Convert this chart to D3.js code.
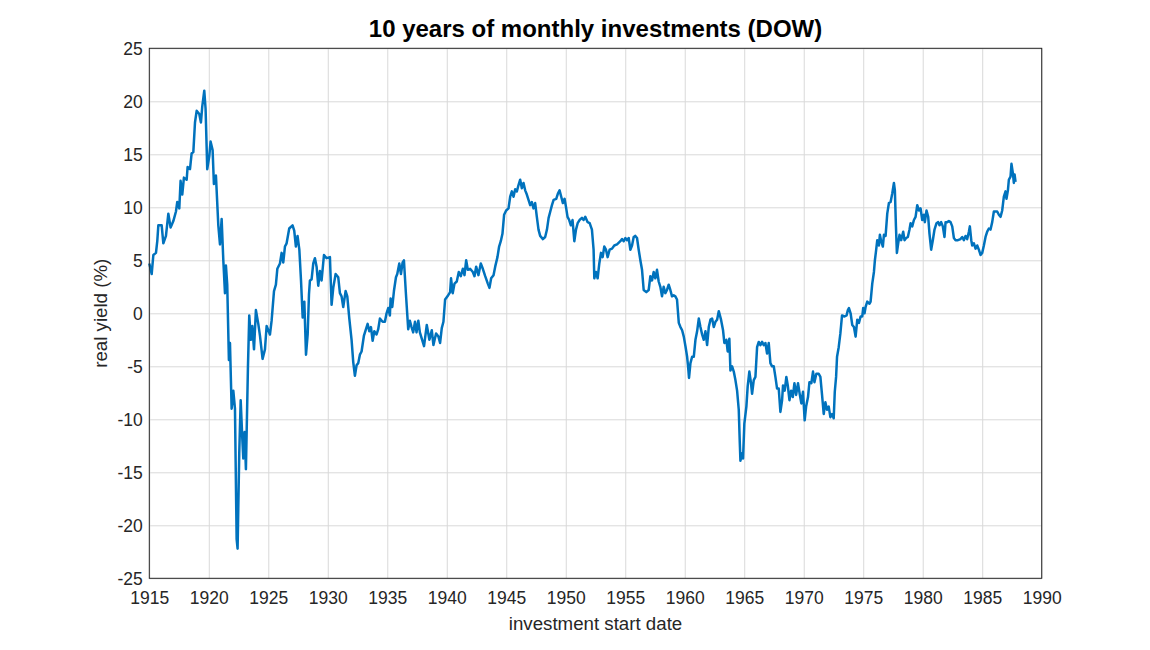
<!DOCTYPE html>
<html>
<head>
<meta charset="utf-8">
<script src="https://cdn.jsdelivr.net/npm/d3@7"></script>
<style>
    body { margin: 0; background: #fff; }
    #chart { width: 1150px; height: 650px; }
</style>
</head>
<body>
<div id="chart"></div>
<script>

const chartTitle = "10 years of monthly investments (DOW)";
const xLabel = "investment start date";
const yLabel = "real yield (%)";

const xTicks = [1915, 1920, 1925, 1930, 1935, 1940, 1945, 1950, 1955, 1960, 1965, 1970, 1975, 1980, 1985, 1990];
const yTicks = [-25, -20, -15, -10, -5, 0, 5, 10, 15, 20, 25];

// investment start date (decimal year)
const startDates = [
    1915.00, 1915.20, 1915.34, 1915.56, 1915.67, 1915.76, 1916.04, 1916.18, 1916.40, 1916.60,
    1916.79, 1917.02, 1917.24, 1917.35, 1917.52, 1917.63, 1917.77, 1917.91, 1918.14, 1918.22,
    1918.42, 1918.56, 1918.70, 1918.84, 1918.98, 1919.20, 1919.34, 1919.45, 1919.62, 1919.73,
    1919.87, 1920.04, 1920.15, 1920.32, 1920.43, 1920.60, 1920.80, 1920.94, 1921.08, 1921.22,
    1921.36, 1921.44, 1921.55, 1921.69, 1921.78, 1921.92, 1922.06, 1922.20, 1922.34, 1922.42,
    1922.56, 1922.68, 1922.82, 1922.90, 1923.01, 1923.12, 1923.29, 1923.40, 1923.54, 1923.66,
    1923.80, 1923.96, 1924.16, 1924.30, 1924.52, 1924.72, 1924.86, 1925.14, 1925.28, 1925.48,
    1925.64, 1925.76, 1925.98, 1926.12, 1926.26, 1926.40, 1926.54, 1926.76, 1927.04, 1927.18,
    1927.32, 1927.46, 1927.61, 1927.75, 1927.89, 1928.03, 1928.17, 1928.31, 1928.42, 1928.50,
    1928.64, 1928.78, 1928.92, 1929.06, 1929.20, 1929.34, 1929.48, 1929.68, 1929.90, 1930.18,
    1930.32, 1930.46, 1930.66, 1930.88, 1931.02, 1931.16, 1931.30, 1931.50, 1931.64, 1931.81,
    1932.00, 1932.14, 1932.28, 1932.42, 1932.56, 1932.70, 1932.84, 1933.04, 1933.21, 1933.35,
    1933.49, 1933.63, 1933.77, 1933.91, 1934.10, 1934.24, 1934.38, 1934.61, 1934.80, 1934.94,
    1935.08, 1935.22, 1935.28, 1935.42, 1935.56, 1935.73, 1935.84, 1936.01, 1936.15, 1936.29,
    1936.40, 1936.57, 1936.76, 1936.90, 1937.04, 1937.18, 1937.33, 1937.46, 1937.61, 1937.74,
    1938.09, 1938.32, 1938.54, 1938.74, 1938.88, 1939.10, 1939.30, 1939.44, 1939.58, 1939.72,
    1939.86, 1940.06, 1940.28, 1940.36, 1940.50, 1940.65, 1940.84, 1941.01, 1941.18, 1941.35,
    1941.49, 1941.63, 1941.77, 1941.96, 1942.19, 1942.33, 1942.47, 1942.66, 1942.86, 1943.03,
    1943.23, 1943.45, 1943.59, 1943.73, 1943.93, 1944.07, 1944.26, 1944.40, 1944.54, 1944.68,
    1944.82, 1944.99, 1945.19, 1945.33, 1945.47, 1945.61, 1945.75, 1945.89, 1946.03, 1946.17,
    1946.31, 1946.45, 1946.59, 1946.73, 1946.87, 1947.01, 1947.15, 1947.29, 1947.43, 1947.57,
    1947.71, 1947.85, 1948.08, 1948.27, 1948.42, 1948.56, 1948.70, 1948.84, 1948.98, 1949.20,
    1949.34, 1949.48, 1949.62, 1949.76, 1949.90, 1950.01, 1950.15, 1950.29, 1950.43, 1950.57,
    1950.72, 1950.86, 1951.00, 1951.16, 1951.36, 1951.50, 1951.64, 1951.84, 1952.01, 1952.20,
    1952.34, 1952.40, 1952.54, 1952.68, 1952.82, 1952.96, 1953.10, 1953.24, 1953.38, 1953.52,
    1953.69, 1953.89, 1954.08, 1954.31, 1954.59, 1954.73, 1954.87, 1955.01, 1955.15, 1955.29,
    1955.43, 1955.57, 1955.71, 1955.85, 1955.99, 1956.13, 1956.27, 1956.41, 1956.55, 1956.77,
    1956.97, 1957.11, 1957.25, 1957.39, 1957.53, 1957.67, 1957.81, 1957.95, 1958.09, 1958.23,
    1958.37, 1958.51, 1958.65, 1958.79, 1958.93, 1959.07, 1959.21, 1959.35, 1959.50, 1959.64,
    1959.78, 1959.92, 1960.06, 1960.20, 1960.28, 1960.36, 1960.48, 1960.62, 1960.76, 1960.90,
    1961.04, 1961.18, 1961.32, 1961.46, 1961.60, 1961.74, 1961.88, 1962.02, 1962.16, 1962.30,
    1962.44, 1962.58, 1962.72, 1962.86, 1963.05, 1963.22, 1963.33, 1963.50, 1963.61, 1963.75,
    1963.84, 1963.98, 1964.12, 1964.26, 1964.40, 1964.54, 1964.62, 1964.68, 1964.82, 1964.90,
    1965.01, 1965.18, 1965.29, 1965.43, 1965.57, 1965.66, 1965.80, 1965.94, 1966.08, 1966.22,
    1966.36, 1966.50, 1966.64, 1966.78, 1966.92, 1967.06, 1967.20, 1967.34, 1967.48, 1967.62,
    1967.76, 1967.90, 1968.04, 1968.18, 1968.26, 1968.40, 1968.54, 1968.66, 1968.80, 1968.94,
    1969.08, 1969.22, 1969.36, 1969.52, 1969.66, 1969.80, 1969.94, 1970.08, 1970.20, 1970.36,
    1970.48, 1970.64, 1970.78, 1970.90, 1971.06, 1971.26, 1971.40, 1971.54, 1971.68, 1971.82,
    1971.96, 1972.10, 1972.24, 1972.38, 1972.52, 1972.61, 1972.72, 1972.80, 1972.94, 1973.08,
    1973.22, 1973.43, 1973.60, 1973.71, 1973.80, 1973.94, 1974.08, 1974.22, 1974.36, 1974.50,
    1974.64, 1974.78, 1974.92, 1975.00, 1975.11, 1975.20, 1975.34, 1975.53, 1975.62, 1975.76,
    1975.90, 1975.98, 1976.09, 1976.18, 1976.32, 1976.40, 1976.51, 1976.65, 1976.74, 1976.88,
    1977.02, 1977.16, 1977.30, 1977.44, 1977.58, 1977.66, 1977.75, 1977.83, 1977.94, 1978.05,
    1978.19, 1978.36, 1978.47, 1978.61, 1978.75, 1978.89, 1978.98, 1979.12, 1979.26, 1979.40,
    1979.54, 1979.68, 1979.82, 1979.96, 1980.10, 1980.18, 1980.32, 1980.46, 1980.57, 1980.71,
    1980.85, 1980.99, 1981.16, 1981.30, 1981.41, 1981.55, 1981.69, 1981.83, 1981.92, 1982.06,
    1982.20, 1982.34, 1982.48, 1982.62, 1982.76, 1982.96, 1983.18, 1983.32, 1983.46, 1983.60,
    1983.74, 1983.88, 1983.96, 1984.08, 1984.16, 1984.30, 1984.44, 1984.58, 1984.72, 1984.86,
    1985.00, 1985.14, 1985.28, 1985.42, 1985.56, 1985.70, 1985.84, 1985.98, 1986.12, 1986.26,
    1986.40, 1986.54, 1986.68, 1986.82, 1986.96, 1987.04, 1987.16, 1987.24, 1987.38, 1987.46,
    1987.58, 1987.66, 1987.72, 1987.80
];

// real yield in percent, same order as startDates
const realYield = [
    4.7, 3.7, 5.5, 5.7, 6.8, 8.3, 8.3, 6.6, 7.3, 9.4,
    8.1, 8.7, 9.6, 10.5, 9.9, 12.5, 11.2, 12.8, 12.6, 13.8,
    13.6, 15.1, 15.2, 18.0, 19.1, 18.8, 18.0, 19.5, 21.0, 19.3,
    13.6, 14.8, 16.2, 15.4, 12.2, 13.0, 8.3, 6.5, 8.9, 5.0,
    1.9, 4.5, 2.7, -4.4, -2.8, -9.0, -7.3, -9.0, -21.3, -22.2,
    -13.2, -8.2, -11.9, -13.7, -11.2, -14.7, -5.1, -0.2, -2.5, -1.2,
    -3.4, 0.3, -1.0, -2.1, -4.3, -3.4, -1.2, -2.0, -0.7, 2.1,
    2.7, 4.2, 4.7, 5.7, 4.8, 6.3, 6.6, 8.0, 8.3, 7.8,
    6.3, 7.3, 6.0, 3.1, -0.4, 1.1, -3.9, -2.0, 1.8, 3.1,
    3.2, 4.7, 5.2, 4.4, 2.6, 4.0, 3.1, 5.5, 5.2, 5.3,
    0.8, 2.4, 3.7, 3.4, 1.9, 1.6, 0.6, 2.1, 1.6, -0.5,
    -2.5, -4.6, -5.9, -4.9, -4.7, -3.9, -3.6, -2.1, -1.5, -1.0,
    -1.7, -1.3, -2.6, -1.7, -2.0, -1.5, -0.5, -0.8, -0.8, 0.0,
    0.5, -0.2, 1.4, 0.6, 2.1, 3.4, 3.7, 4.7, 3.7, 4.8,
    5.0, 1.8, -1.5, -0.7, -1.3, -1.8, -0.8, -1.8, -0.7, -1.8,
    -3.1, -1.1, -2.5, -1.6, -3.0, -1.9, -2.2, -2.8, -1.4, -0.8,
    1.3, 1.6, 2.0, 3.3, 1.9, 2.8, 3.0, 3.9, 3.5, 4.2,
    3.6, 5.0, 4.1, 4.2, 3.9, 3.5, 4.4, 3.6, 4.7, 4.2,
    3.5, 2.8, 2.4, 3.3, 3.6, 4.4, 5.3, 6.3, 6.8, 7.5,
    9.3, 9.7, 9.9, 11.0, 11.5, 11.0, 11.7, 11.5, 12.1, 12.6,
    11.8, 12.3, 11.6, 11.2, 10.7, 10.2, 10.5, 9.9, 10.4, 9.1,
    7.9, 7.3, 7.0, 7.2, 7.9, 9.0, 9.6, 10.2, 10.7, 10.8,
    11.3, 11.6, 11.0, 10.4, 10.8, 10.1, 9.1, 8.8, 8.3, 8.8,
    6.8, 7.9, 8.5, 8.8, 9.0, 8.8, 9.1, 8.6, 8.5, 7.9,
    6.0, 3.3, 3.9, 3.3, 4.7, 5.7, 5.3, 6.3, 6.0, 5.3,
    6.0, 6.1, 6.4, 6.5, 6.8, 7.0, 6.8, 7.1, 6.9, 7.1,
    6.0, 6.4, 7.2, 7.3, 7.1, 6.0, 5.0, 4.1, 2.2, 2.0,
    2.2, 3.5, 3.1, 3.9, 3.3, 4.1, 3.0, 2.5, 1.6, 2.5,
    1.9, 2.2, 2.7, 2.2, 1.6, 1.7, 1.6, 1.3, -0.9, -1.3,
    -1.6, -2.2, -3.1, -4.1, -5.0, -6.1, -4.7, -4.1, -4.1, -2.5,
    -1.7, -0.5, -1.3, -2.0, -2.5, -1.7, -3.0, -1.3, -0.6, -0.5,
    -1.3, -0.8, -0.6, 0.2, -0.6, -1.6, -2.8, -2.5, -3.6, -2.4,
    -5.4, -5.0, -5.5, -6.3, -7.3, -9.1, -12.0, -13.9, -13.2, -13.7,
    -10.4, -8.8, -6.9, -5.5, -6.6, -7.6, -6.3, -6.0, -3.2, -2.7,
    -3.0, -2.7, -3.0, -2.8, -3.8, -2.8, -4.7, -5.0, -5.0, -6.0,
    -7.1, -7.1, -9.3, -8.2, -6.8, -7.3, -6.0, -6.8, -8.2, -7.3,
    -7.9, -6.6, -7.7, -6.6, -7.6, -8.5, -7.4, -10.1, -8.8, -7.9,
    -6.5, -6.6, -5.5, -6.5, -5.7, -5.7, -6.0, -7.7, -9.5, -8.4,
    -9.1, -8.8, -9.8, -9.5, -9.9, -7.4, -6.0, -4.1, -3.2, -1.9,
    -0.2, -0.3, -0.2, 0.3, 0.5, 0.0, -1.1, -1.3, -2.2, -0.6,
    -0.9, -0.3, -0.3, 0.5, 0.0, 0.6, 1.1, 0.9, 1.1, 2.8,
    3.9, 5.0, 6.0, 6.9, 6.4, 7.4, 6.8, 6.3, 7.4, 7.3,
    9.4, 10.4, 10.5, 11.3, 12.3, 11.6, 8.2, 5.7, 6.6, 7.4,
    6.9, 7.7, 6.9, 7.1, 7.2, 7.9, 8.5, 8.2, 8.8, 9.1,
    10.2, 9.7, 9.9, 8.8, 9.3, 8.6, 9.7, 9.1, 7.5, 6.0,
    6.9, 7.9, 8.5, 8.6, 8.3, 8.6, 8.2, 7.2, 8.6, 8.6,
    8.7, 8.6, 8.2, 7.1, 6.9, 6.9, 7.0, 7.2, 6.9, 7.3,
    7.0, 7.7, 8.2, 6.9, 6.4, 6.6, 6.1, 6.4, 6.0, 5.5,
    5.7, 6.4, 7.2, 7.7, 8.0, 7.9, 8.6, 9.6, 9.6, 9.6,
    9.3, 9.1, 9.7, 11.0, 11.5, 10.8, 11.6, 12.6, 12.9, 14.1,
    13.2, 12.3, 13.1, 12.4
];

const chartElement = document.getElementById('chart');

plot();

function plot() {
    chartElement.append(lineChart());
}

function lineChart() {

    // figure and axes box, in pixels
    const width = 1150;
    const height = 650;
    const marginTop = 48.3;
    const marginRight = 108.3;
    const marginBottom = 71.7;
    const marginLeft = 149.3;

    const font = "'Liberation Sans', Arial, Helvetica, sans-serif";
    const axisColor = "#262626";

    const data = startDates.map((d, i) => ({date: d, value: realYield[i]}));

    const x = d3.scaleLinear()
        .domain([xTicks[0], xTicks[xTicks.length - 1]])
        .range([marginLeft, width - marginRight]);

    const y = d3.scaleLinear()
        .domain([yTicks[0], yTicks[yTicks.length - 1]])
        .range([height - marginBottom, marginTop]);

    const line = d3.line()
        .x(d => x(d.date))
        .y(d => y(d.value));

    const svg = d3.create("svg")
        .attr("width", width)
        .attr("height", height)
        .attr("viewBox", [0, 0, width, height])
        .attr("font-family", font)
        .attr("style", "background: #fff;");

    // bottom axis with vertical grid
    svg.append("g")
        .attr("transform", `translate(0,${height - marginBottom})`)
        .call(d3.axisBottom(x).tickValues(xTicks).tickFormat(d3.format("d")).tickSize(0).tickPadding(0))
        .call(g => g.select(".domain").remove())
        .call(g => g.selectAll(".tick line").clone()
            .attr("y2", -(height - marginTop - marginBottom))
            .attr("stroke", "#d9d9d9"))
        .call(g => g.selectAll(".tick text")
            .attr("y", 25.7)
            .attr("dy", null)
            .attr("font-size", 17.5)
            .attr("fill", axisColor));

    // left axis with horizontal grid
    svg.append("g")
        .attr("transform", `translate(${marginLeft},0)`)
        .call(d3.axisLeft(y).tickValues(yTicks).tickFormat(d3.format("d")).tickSize(0).tickPadding(6.6))
        .call(g => g.select(".domain").remove())
        .call(g => g.selectAll(".tick line").clone()
            .attr("x2", width - marginLeft - marginRight)
            .attr("stroke", "#d9d9d9"))
        .call(g => g.selectAll(".tick text")
            .attr("font-size", 17.5)
            .attr("dy", "0.36em")
            .attr("fill", axisColor));

    svg.selectAll(".tick text").text(function () {
        return this.textContent.replace("\u2212", "-");
    });

    svg.append("path")
        .datum(data)
        .attr("fill", "none")
        .attr("stroke", "#0072BD")
        .attr("stroke-width", 2.5)
        .attr("stroke-linejoin", "round")
        .attr("d", line);

    // axes box
    svg.append("rect")
        .attr("x", marginLeft)
        .attr("y", marginTop)
        .attr("width", width - marginLeft - marginRight)
        .attr("height", height - marginTop - marginBottom)
        .attr("fill", "none")
        .attr("stroke", axisColor)
        .attr("stroke-width", 1);

    svg.append("text")
        .attr("x", (marginLeft + width - marginRight) / 2)
        .attr("y", 37.3)
        .attr("text-anchor", "middle")
        .attr("font-size", 24)
        .attr("font-weight", "bold")
        .attr("fill", "#000")
        .text(chartTitle);

    svg.append("text")
        .attr("x", (marginLeft + width - marginRight) / 2)
        .attr("y", 630)
        .attr("text-anchor", "middle")
        .attr("font-size", 18.7)
        .attr("fill", axisColor)
        .text(xLabel);

    svg.append("text")
        .attr("transform", `translate(106.7,${(marginTop + height - marginBottom) / 2}) rotate(-90)`)
        .attr("text-anchor", "middle")
        .attr("font-size", 18.7)
        .attr("fill", axisColor)
        .text(yLabel);

    return svg.node();
}

</script>
</body>
</html>
